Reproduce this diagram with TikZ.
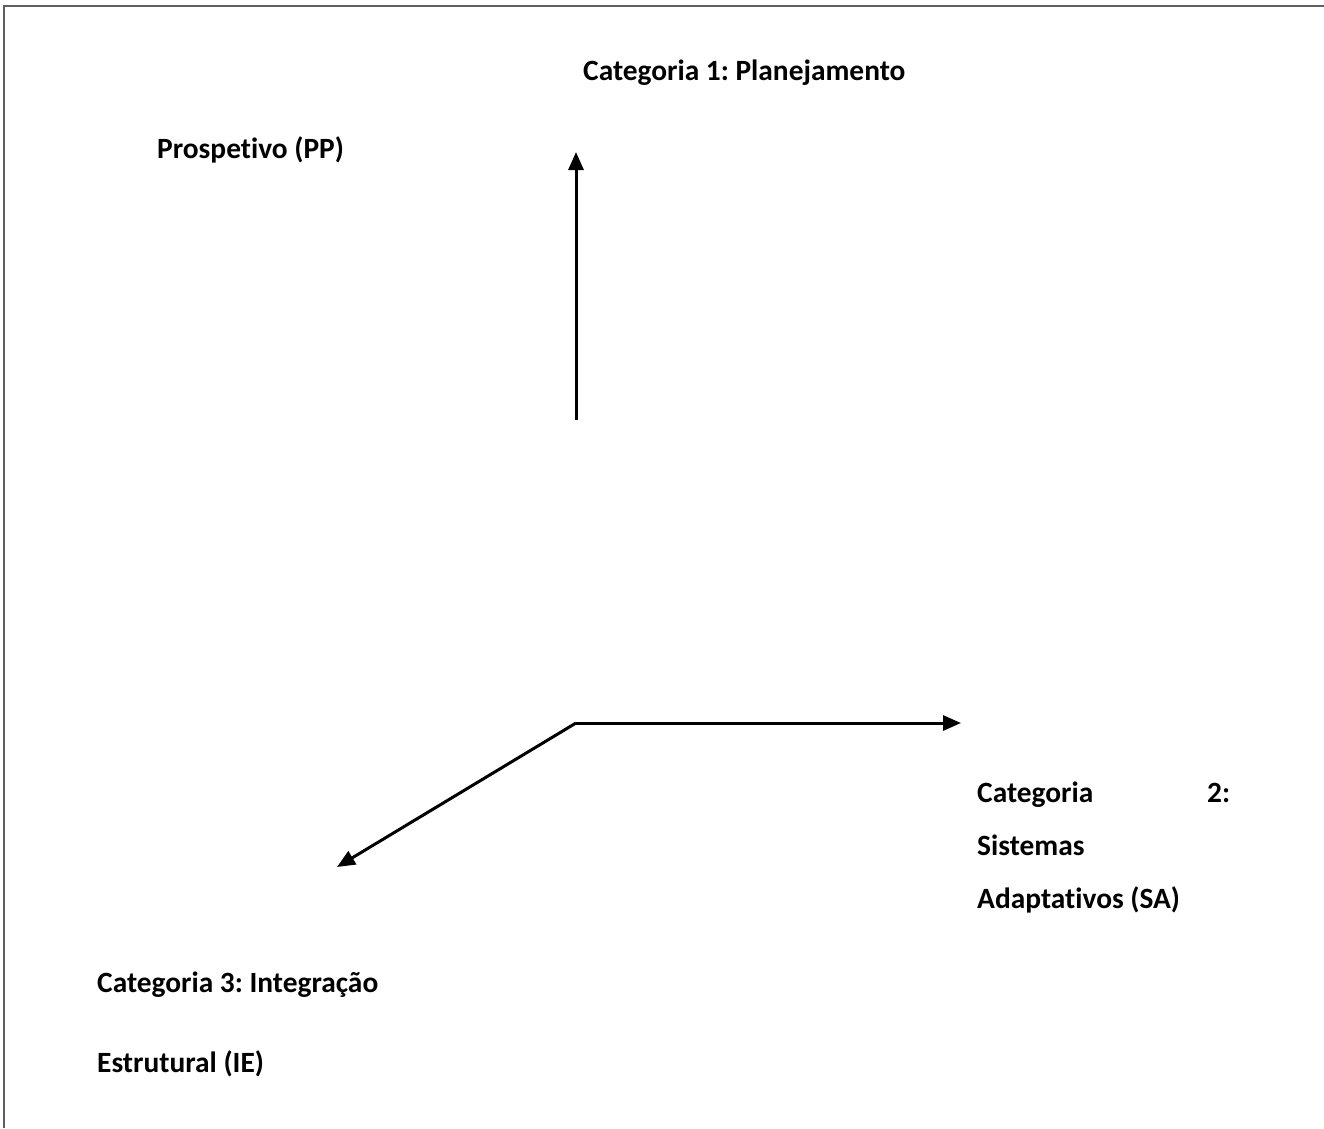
\documentclass[tikz,border=0pt]{standalone}
\usepackage{fontspec}
\setmainfont{Carlito}[Ligatures={NoCommon,NoRare}]
\usetikzlibrary{arrows.meta}
\definecolor{framegray}{HTML}{606060}
\frenchspacing
\tikzset{
  lbl/.style={inner sep=0pt, anchor=base west, font=\bfseries\fontsize{29.4}{35}\selectfont},
  axis/.style={line width=3pt, -{Triangle[length=18pt,width=15pt]}},
  frameline/.style={draw=framegray, line width=2.5pt}
}
\begin{document}
\begin{tikzpicture}[x=1pt,y=-1pt]
\useasboundingbox (0,0) rectangle (1324,1128);
\draw[frameline] (4,1128) -- (4,6) -- (1324,6);
\coordinate (o) at (576,723);
\coordinate (vstart) at (576,420);
\coordinate (vend) at (576,152);
\coordinate (hend) at (961,723);
\coordinate (dend) at (337,867);
\draw[axis] (vstart) -- (vend);
\draw[axis] (o) -- (hend);
\draw[axis] (o) -- (dend);
\node[lbl] (c1) at (583,80) {Categoria 1: Planejamento};
\node[lbl] (pp) at (157,158) {Prospetivo (PP)};
\node[lbl] (c2a) at (977,802) {\makebox[253pt][s]{Categoria\hfill 2:}};
\node[lbl] (c2b) at (977,855) {Sistemas};
\node[lbl] (c2c) at (977,908) {Adaptativos (SA)};
\node[lbl] (c3a) at (97,992) {Categoria 3: Integração};
\node[lbl] (c3b) at (97,1072) {Estrutural (IE)};
\end{tikzpicture}
\end{document}
